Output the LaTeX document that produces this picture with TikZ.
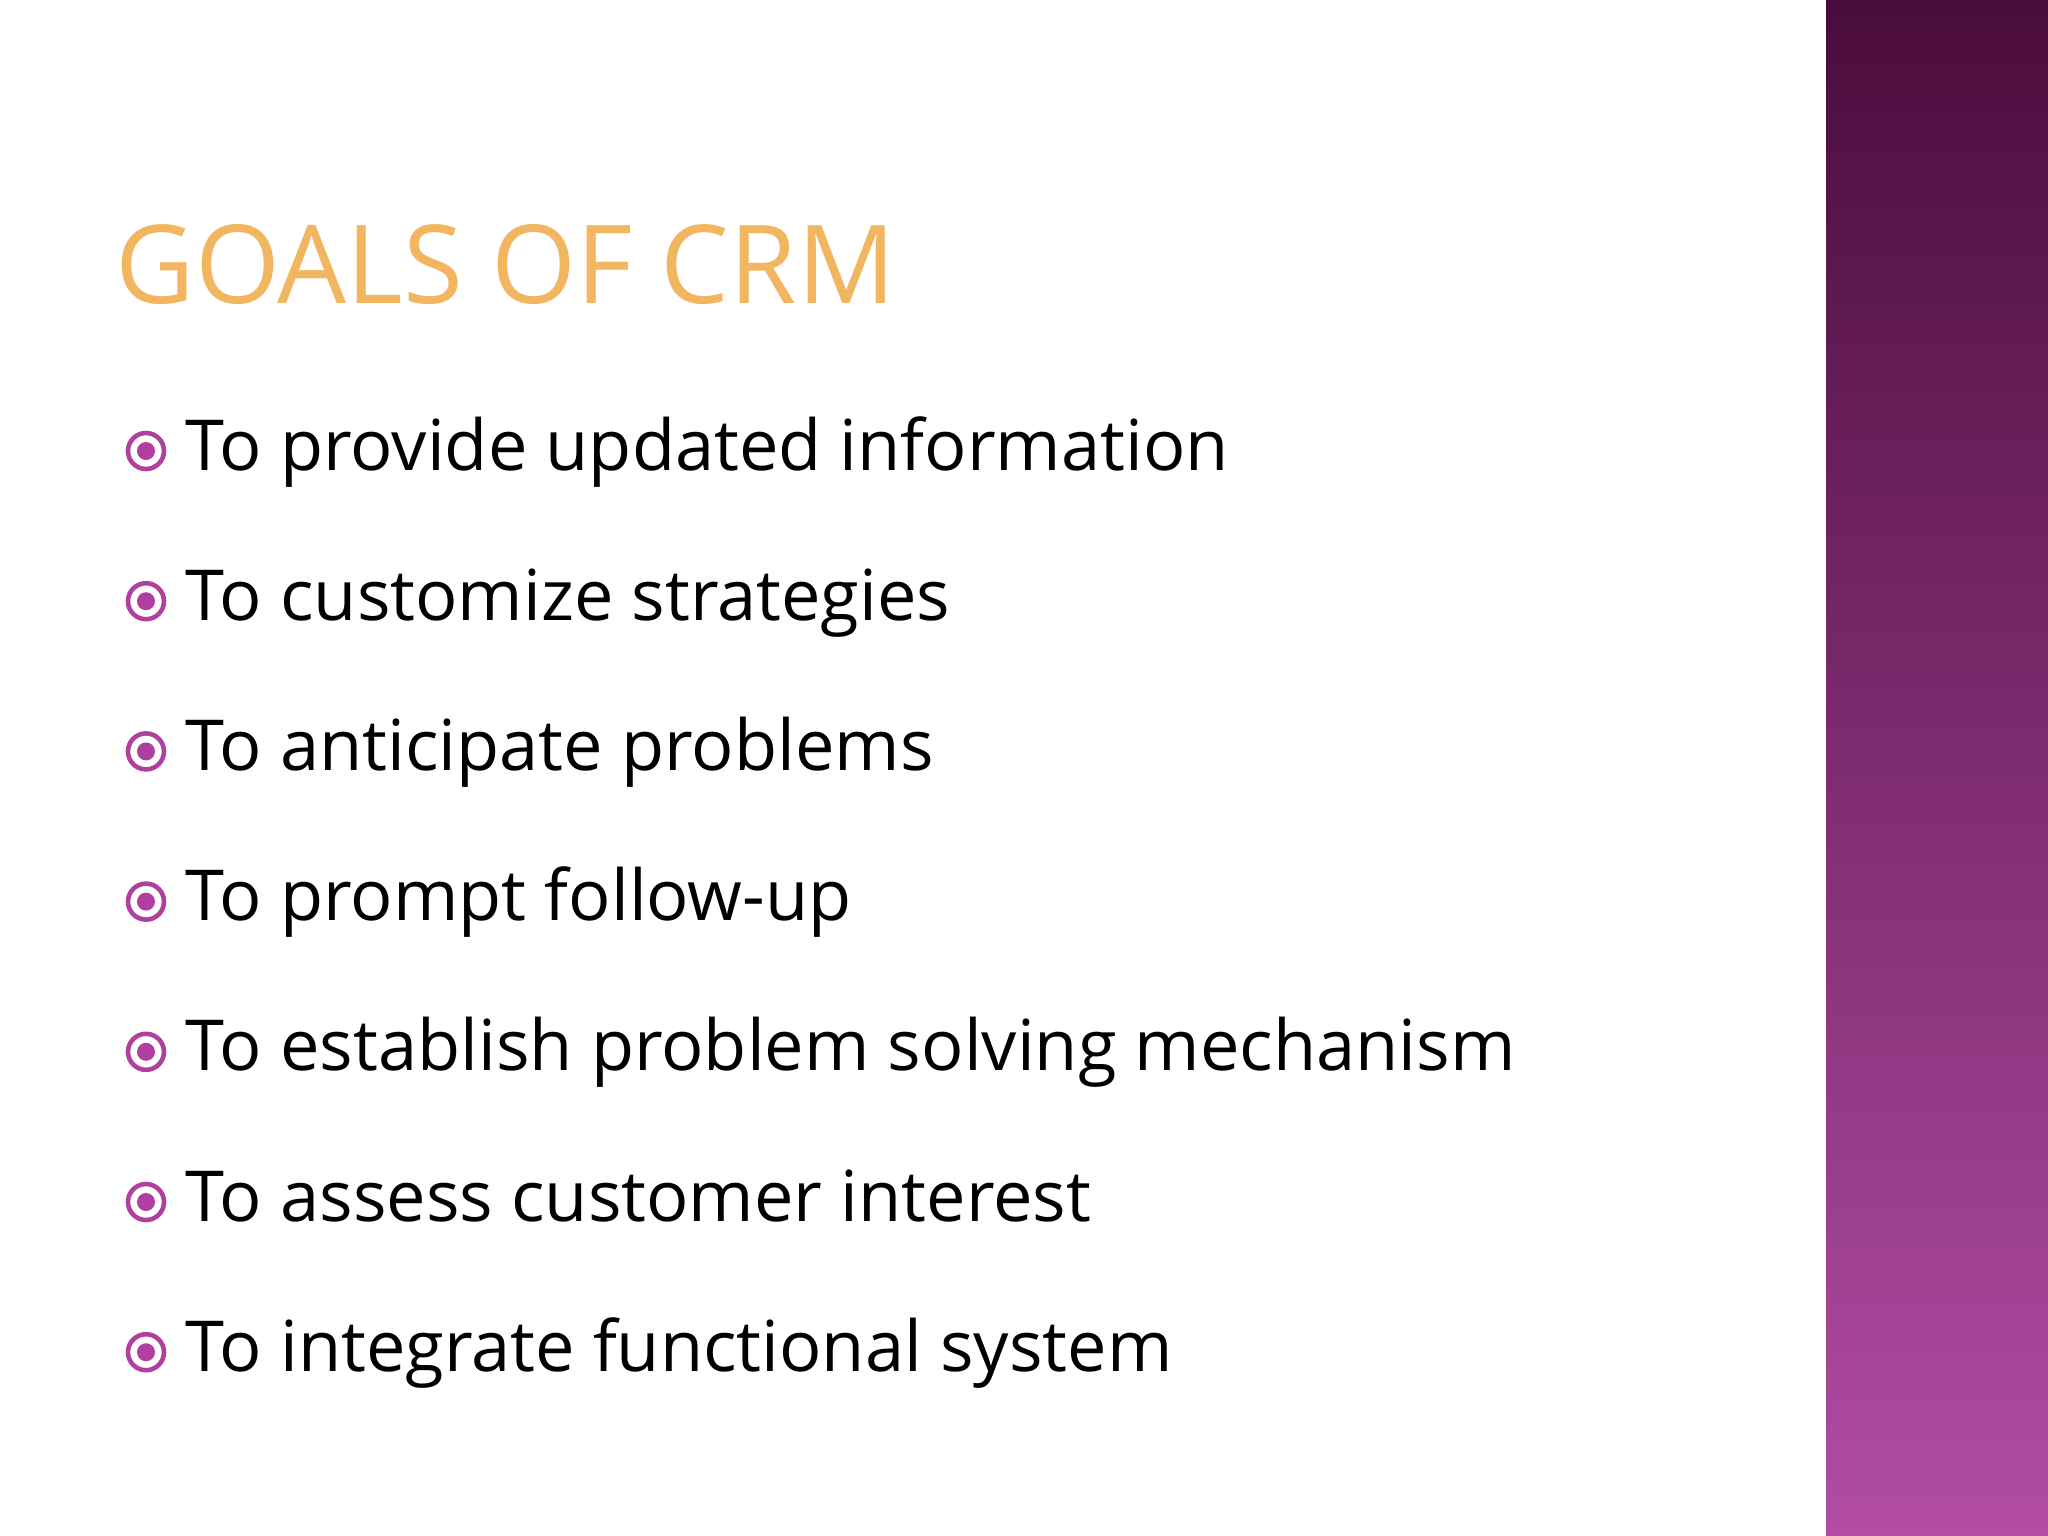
\documentclass[tikz,border=0pt]{standalone}
\usepackage{fontspec}
\setmainfont{Open Sans}
\definecolor{bandtop}{HTML}{4A0C3C}
\definecolor{bandbot}{HTML}{B24CA4}
\definecolor{bulletc}{HTML}{B040A0}
\definecolor{titlec}{HTML}{F2B660}
\begin{document}
\begin{tikzpicture}[x=0.01cm,y=-0.01cm,
  item/.style={anchor=base west,inner sep=0pt,font=\fontsize{20}{24}\selectfont},
  bul/.style={circle,draw=bulletc,line width=1.3pt,minimum size=0.36cm,inner sep=0pt}]
\useasboundingbox (0,0) rectangle (2048,1536);
\fill[white] (0,0) rectangle (2048,1536);
\shade[top color=bandtop,bottom color=bandbot] (1826,0) rectangle (2048,1536);
\node[anchor=base west,inner sep=0pt,text=titlec,font=\fontsize{31}{36}\selectfont] (title) at (115,303) {GOALS OF CRM};
\foreach \t [count=\i] in {To provide updated information,To customize strategies,To anticipate problems,To prompt follow-up,To establish problem solving mechanism,To assess customer interest,To integrate functional system}{
  \pgfmathsetmacro\yy{470+150.2*(\i-1)}
  \node[item] (t\i) at (185,\yy) {\t};
  \node[bul] (b\i) at (146,\yy-19) {};
  \fill[bulletc] (b\i.center) circle (0.09cm);
}
\end{tikzpicture}
\end{document}
